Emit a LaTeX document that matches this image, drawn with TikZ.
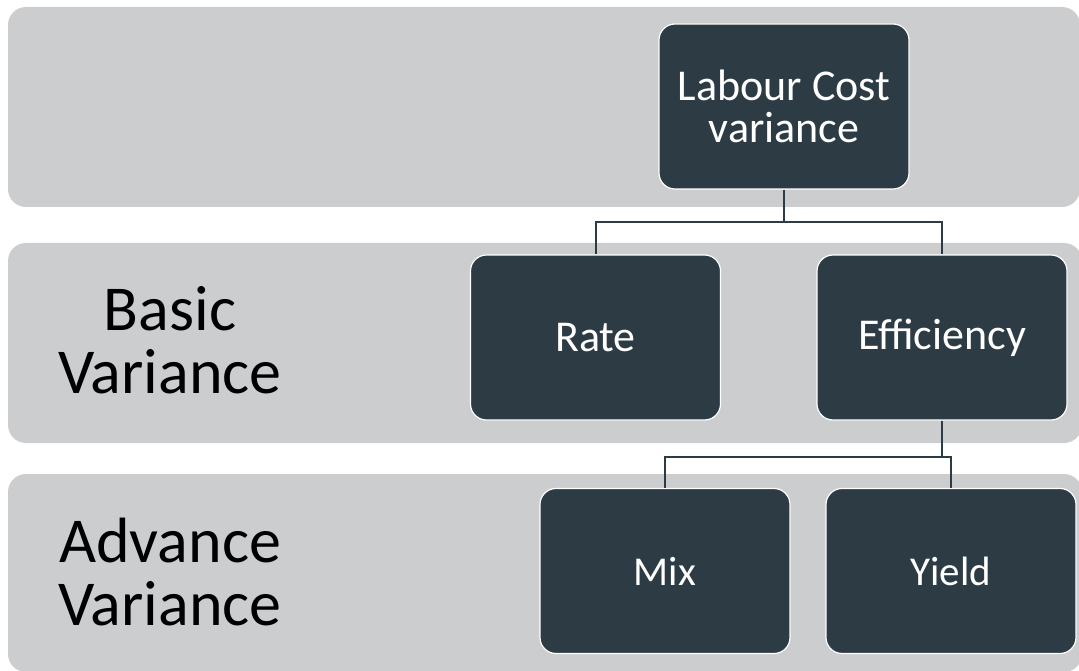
\documentclass[tikz,border=0pt]{standalone}
\usepackage{fontspec}
\setmainfont{Carlito}
\definecolor{bandgray}{HTML}{CCCDCF}
\definecolor{boxdark}{HTML}{2D3C44}
\begin{document}
\begin{tikzpicture}[x=1pt,y=-1pt,
  band/.style={fill=bandgray, rounded corners=18pt},
  box/.style={draw=white, line width=1.2pt, fill=boxdark, rounded corners=16pt,
    minimum width=250pt, minimum height=165pt, text=white, align=center,
    font=\fontsize{44}{42}\selectfont},
  smallbox/.style={box, font=\fontsize{41}{42}\selectfont},
  lbl/.style={align=center, text=black, font=\fontsize{64}{63}\selectfont},
  conn/.style={draw=boxdark, line width=2pt}]
\useasboundingbox (0,0) rectangle (1079,671);
\begin{scope}
\clip (0,0) rectangle (1079,671);
\fill[band] (8,7) rectangle (1080,207);
\fill[band] (8,243) rectangle (1082,443);
\fill[band] (8,474) rectangle (1082,672);
\end{scope}
\node[box] (labour) at (784,106.5) {Labour Cost\\variance};
\node[box] (rate) at (595.5,337.5) {Rate};
\node[box] (eff) at (942,337.5) {Efficiency};
\node[smallbox] (mix) at (665,571) {Mix};
\node[smallbox] (yield) at (951,571) {Yield};
\node[lbl] (basic) at (170,340) {Basic\\Variance};
\node[lbl] (adv) at (170,572) {Advance\\Variance};
\coordinate (j1) at (784,222);
\coordinate (j2) at (942,457);
\draw[conn] (labour.south) -- (j1);
\draw[conn] (rate.north) |- (j1) -| (eff.north);
\draw[conn] (eff.south) -- (j2);
\draw[conn] (mix.north) |- (j2) -| (yield.north);
\end{tikzpicture}
\end{document}
